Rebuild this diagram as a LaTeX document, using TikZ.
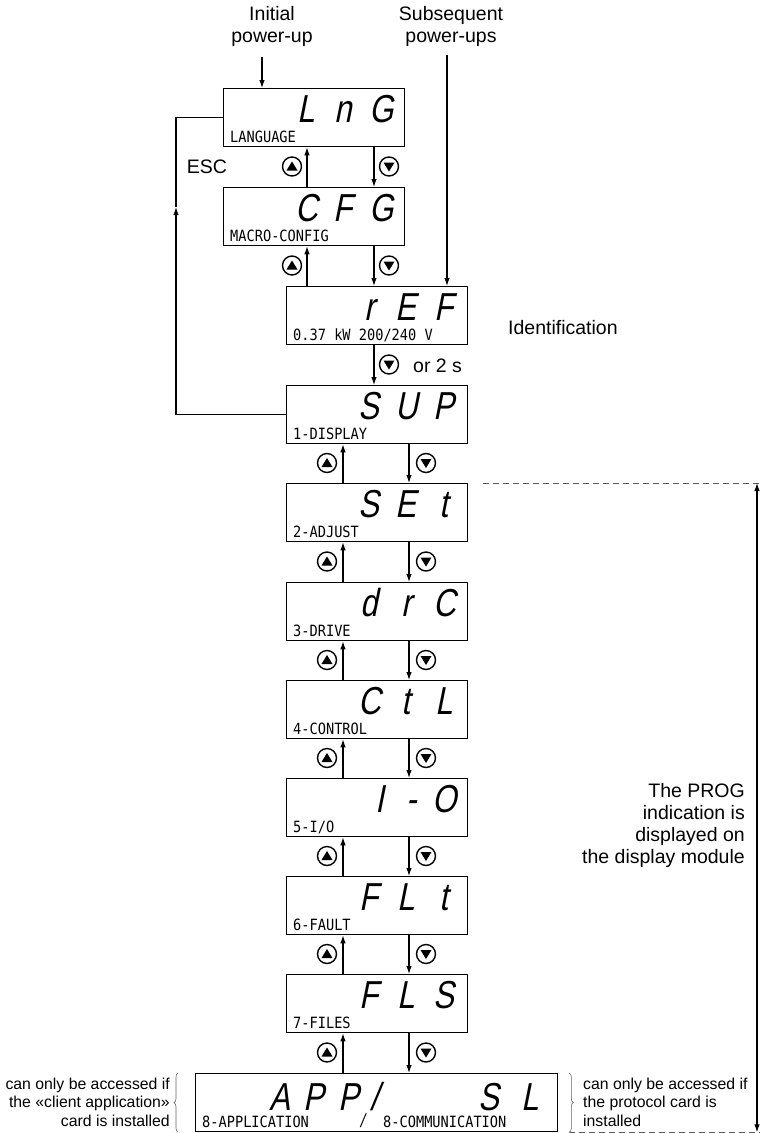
\documentclass[tikz,border=0pt]{standalone}
\usepackage{fontspec}
\setmainfont{Liberation Sans}
\newfontfamily\segfam{Liberation Sans}[FakeSlant=0.2,FakeStretch=0.8]
\newfontfamily\monofam{DejaVu Sans Mono}[FakeStretch=0.88]
\usetikzlibrary{arrows.meta,calc,decorations.pathreplacing}
\newcommand\segrow[4]{%
  \node[seg] (#1s1) at ([xshift=-99pt,yshift=-34pt]#1.north east) {#2};
  \node[seg] (#1s2) at ([xshift=-62pt,yshift=-34pt]#1.north east) {#3};
  \node[seg] (#1s3) at ([xshift=-24pt,yshift=-34pt]#1.north east) {#4};}
\newcommand\boxlab[2]{%
  \node[lab] (#1lab) at ([xshift=7pt,yshift=4.5pt]#1.south west) {#2};}
\begin{document}
\begin{tikzpicture}[x=1pt,y=-1pt,
  disp/.style={draw,line width=1.3pt,minimum width=181pt,minimum height=58pt,anchor=north west,inner sep=0pt},
  seg/.style={font=\segfam\fontsize{39}{39}\selectfont,inner sep=0pt,anchor=base},
  lab/.style={font=\monofam\fontsize{15.5}{16}\selectfont,inner sep=0pt,anchor=base west},
  arr/.style={-{Latex[length=8pt,width=5.5pt]},line width=1.1pt},
  plain/.style={line width=1.1pt},
  btn/.style={circle,draw,line width=1.4pt,minimum size=19pt,inner sep=0pt},
  btnup/.style={btn,path picture={\fill ($(path picture bounding box.center)+(-5.5pt,-4pt)$) -- ++(11pt,0pt) -- ++(-5.5pt,9pt) -- cycle;}},
  btndn/.style={btn,path picture={\fill ($(path picture bounding box.center)+(-5.5pt,4pt)$) -- ++(11pt,0pt) -- ++(-5.5pt,-9pt) -- cycle;}},
  big/.style={font=\fontsize{19.5}{22}\selectfont,inner sep=0pt},
  small/.style={font=\fontsize{15.8}{18.5}\selectfont,inner sep=0pt},
  dashline/.style={dash pattern=on 6pt off 4pt,line width=0.9pt,draw=black!65},
]
\useasboundingbox (0,0) rectangle (764,1133);

% display boxes
\node[disp] (A) at (223,88) {};
\node[disp] (B) at (223,187) {};
\node[disp] (C) at (286,286) {};
\node[disp] (D) at (286,385) {};
\node[disp] (E) at (286,483) {};
\node[disp] (F) at (286,582) {};
\node[disp] (G) at (286,680) {};
\node[disp] (H) at (286,778) {};
\node[disp] (I) at (286,876) {};
\node[disp] (J) at (286,974) {};
\node[disp,minimum width=362pt] (K) at (195,1073) {};

% big characters
\segrow{A}{L}{n}{G}
\segrow{B}{C}{F}{G}
\segrow{C}{r}{E}{F}
\segrow{D}{S}{U}{P}
\segrow{E}{S}{E}{t}
\segrow{F}{d}{r}{C}
\segrow{G}{C}{t}{L}
\node[seg] (Hs1) at ([xshift=-88pt,yshift=-34pt]H.north east) {I};
\node[seg] (Hs2) at ([xshift=-57pt,yshift=-34pt]H.north east) {-};
\node[seg] (Hs3) at ([xshift=-24pt,yshift=-34pt]H.north east) {O};
\segrow{I}{F}{L}{t}
\segrow{J}{F}{L}{S}
\node[seg] (Ks1) at ([xshift=85pt,yshift=-37pt]K.north west) {A};
\node[seg] (Ks2) at ([xshift=119pt,yshift=-37pt]K.north west) {P};
\node[seg] (Ks3) at ([xshift=154pt,yshift=-37pt]K.north west) {P};
\node[seg] (Ks4) at ([xshift=180pt,yshift=-37pt]K.north west) {/};
\node[seg] (Ks5) at ([xshift=294pt,yshift=-37pt]K.north west) {S};
\node[seg] (Ks6) at ([xshift=335pt,yshift=-37pt]K.north west) {L};

% small labels
\boxlab{A}{LANGUAGE}
\boxlab{B}{MACRO-CONFIG}
\boxlab{C}{0.37 kW 200/240 V}
\boxlab{D}{1-DISPLAY}
\boxlab{E}{2-ADJUST}
\boxlab{F}{3-DRIVE}
\boxlab{G}{4-CONTROL}
\boxlab{H}{5-I/O}
\boxlab{I}{6-FAULT}
\boxlab{J}{7-FILES}
\node[lab] (Kl1) at ([xshift=7pt,yshift=4.5pt]K.south west) {8-APPLICATION};
\node[seg,font=\segfam\fontsize{19}{19}\selectfont] (Kslash) at ([xshift=167pt,yshift=4.5pt]K.south west) {/};
\node[lab] (Kl2) at ([xshift=188pt,yshift=4.5pt]K.south west) {8-COMMUNICATION};

% columns for connectors
\coordinate (u1) at (307,0);
\coordinate (d1) at (374,0);
\coordinate (u2) at (343,0);
\coordinate (d2) at (409,0);

\draw[arr] (A.south -| d1) -- (B.north -| d1);
\draw[arr] (B.north -| u1) -- (A.south -| u1);
\draw[arr] (B.south -| d1) -- (C.north -| d1);
\draw[arr] (C.north -| u1) -- (B.south -| u1);
\draw[arr] (C.south -| d1) -- (D.north -| d1);
\foreach \p/\q in {D/E,E/F,F/G,G/H,H/I,I/J,J/K}{
  \draw[arr] (\p.south -| d2) -- (\q.north -| d2);
  \draw[arr] (\q.north -| u2) -- (\p.south -| u2);
}

% buttons
\node[btnup] (bu01) at (292,166.5) {};
\node[btndn] (bd01) at (389,166.5) {};
\node[btnup] (bu02) at (292,265.5) {};
\node[btndn] (bd02) at (389,265.5) {};
\node[btndn] (bd03) at (389,364.5) {};
\foreach \m [count=\i] in {463,561.5,660,758,856,954,1052.5}{
  \node[btnup] (bu\i) at (327,\m) {};
  \node[btndn] (bd\i) at (426,\m) {};
}

% ESC loop
\coordinate (escx) at (176,0);
\coordinate (escmid) at (176,207);
\draw[plain] (D.west) -- (D.west -| escx);
\draw[arr] (D.west -| escx) -- (escmid);
\draw[plain] (escmid) -- (A.west -| escx) -- (A.west);
\node[big] (esc) at (207,167) {ESC};

% power-up entries
\node[big,align=center] (init) at (272,26) {Initial\\power-up};
\node[big,align=center] (subs) at (451,26) {Subsequent\\power-ups};
\coordinate (initstart) at (262,57);
\coordinate (substart) at (447,55);
\draw[arr] (initstart) -- (initstart |- A.north);
\draw[arr] (substart) -- (substart |- C.north);

\node[big,anchor=west] (ident) at (508,328) {Identification};
\node[big,anchor=west] (or2s) at (413,366) {or 2 s};

% PROG range
\coordinate (rx) at (757,0);
\draw[dashline] ([xshift=15pt]E.north east) -- ([xshift=3pt]E.north -| rx);
\draw[dashline] ([xshift=11pt]K.south east) -- ([xshift=3pt]K.south -| rx);
\draw[{Latex[length=8pt,width=5.5pt]}-{Latex[length=8pt,width=5.5pt]},line width=1.1pt] (E.north -| rx) -- (K.south -| rx);
\node[big,align=right,anchor=east] (prog) at (745,825) {The PROG\\indication is\\displayed on\\the display module};

% side notes
\draw[decorate,decoration={brace,amplitude=4pt},line width=0.6pt,draw=black!60] ([xshift=-17pt]K.south west) -- ([xshift=-17pt]K.north west);
\draw[decorate,decoration={brace,amplitude=4pt},line width=0.6pt,draw=black!60] ([xshift=11pt]K.north east) -- ([xshift=11pt]K.south east);
\node[small,align=right,anchor=east] (lnote) at (170,1102) {can only be accessed if\\the «client application»\\card is installed};
\node[small,align=left,anchor=west] (rnote) at (583,1102) {can only be accessed if\\the protocol card is\\installed};
\end{tikzpicture}
\end{document}
